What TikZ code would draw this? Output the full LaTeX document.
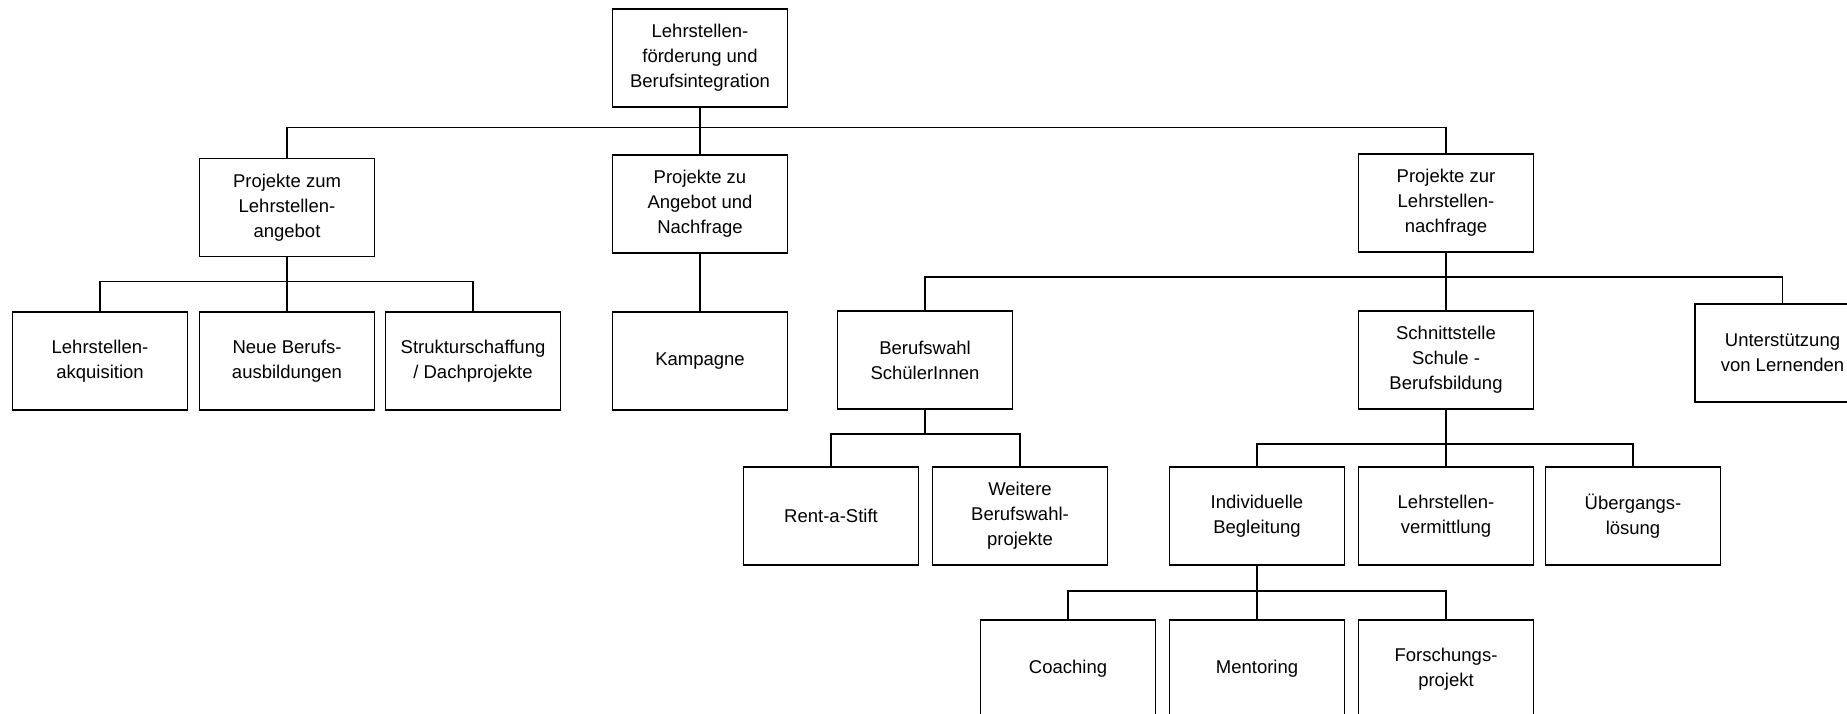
\documentclass[tikz,border=0pt]{standalone}
\usepackage{fontspec}
\setmainfont{Liberation Sans}
\begin{document}
\begin{tikzpicture}[x=1pt,y=1pt,
  box/.style={draw, line width=1.5pt, minimum width=175pt, minimum height=98pt,
    align=center, inner sep=2pt, font=\fontsize{18.5}{25}\selectfont},
  link/.style={line width=1.5pt}]
\useasboundingbox (0,0) rectangle (1847,-714);
\clip (0,0) rectangle (1847,-714);
\node[box] (root) at (700,-58) {Lehrstellen-\\förderung und\\Berufsintegration};
\node[box] (zum) at (287,-207.5) {Projekte zum\\Lehrstellen-\\angebot};
\node[box] (zu) at (700,-204) {Projekte zu\\Angebot und\\Nachfrage};
\node[box] (zur) at (1446,-203) {Projekte zur\\Lehrstellen-\\nachfrage};
\node[box] (akq) at (100,-361) {Lehrstellen-\\akquisition};
\node[box] (neue) at (287,-361) {Neue Berufs-\\ausbildungen};
\node[box] (struk) at (473,-361) {Strukturschaffung\\/ Dachprojekte};
\node[box] (kamp) at (700,-361) {Kampagne};
\node[box] (bwahl) at (925,-360) {Berufswahl\\SchülerInnen};
\node[box] (schnitt) at (1446,-360) {Schnittstelle\\Schule -\\Berufsbildung};
\node[box] (unter) at (1782.5,-353) {Unterstützung\\von Lernenden};
\node[box] (rent) at (831,-516) {Rent-a-Stift};
\node[box] (weitere) at (1020,-516) {Weitere\\Berufswahl-\\projekte};
\node[box] (indiv) at (1257,-516) {Individuelle\\Begleitung};
\node[box] (lverm) at (1446,-516) {Lehrstellen-\\vermittlung};
\node[box] (ueber) at (1633,-516) {Übergangs-\\lösung};
\node[box] (coach) at (1068,-669) {Coaching};
\node[box] (mentor) at (1257,-669) {Mentoring};
\node[box] (forsch) at (1446,-669) {Forschungs-\\projekt};
% level 1
\draw[link] (root.south) -- ++(0,-20) coordinate (b1);
\draw[link] (zum.north) |- (b1) -| (zur.north);
\draw[link] (b1) -- (zu.north);
% level 2 left
\draw[link] (zum.south) -- ++(0,-24) coordinate (b2);
\draw[link] (akq.north) |- (b2) -| (struk.north);
\draw[link] (b2) -- (neue.north);
\draw[link] (zu.south) -- (kamp.north);
% level 2 right
\draw[link] (zur.south) -- ++(0,-24) coordinate (b3);
\draw[link] (bwahl.north) |- (b3) -| (unter.north);
\draw[link] (b3) -- (schnitt.north);
% level 3
\draw[link] (bwahl.south) -- ++(0,-24) coordinate (b4);
\draw[link] (rent.north) |- (b4) -| (weitere.north);
\draw[link] (schnitt.south) -- ++(0,-34) coordinate (b5);
\draw[link] (indiv.north) |- (b5) -| (ueber.north);
\draw[link] (b5) -- (lverm.north);
% level 4
\draw[link] (indiv.south) -- ++(0,-25) coordinate (b6);
\draw[link] (coach.north) |- (b6) -| (forsch.north);
\draw[link] (b6) -- (mentor.north);
\end{tikzpicture}
\end{document}
